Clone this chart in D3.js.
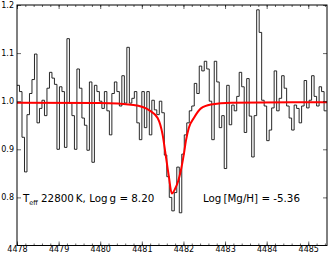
<!DOCTYPE html>
<html>
<head>
<meta charset="utf-8">
<title>spectrum</title>
<script src="https://cdn.jsdelivr.net/npm/d3@7"></script>
<style>
  body { margin: 0; background: #fff; }
  text { font-family: "DejaVu Sans", sans-serif; fill: #000; }
</style>
</head>
<body>
<svg width="329" height="256" id="mainsvg"></svg>
<script>
// observed spectrum, one flux value per pixel bin
const waveStart = 4478.0;
const binWidth = 0.06;
const flux = [
  1.033, 1.02, 0.925, 0.853, 0.972, 1.016, 1.045, 1.098, 0.955, 0.985,
  1.002, 0.97, 1.027, 1.06, 1.048, 1.035, 0.90, 1.03, 1.02, 0.904,
  1.13, 0.996, 0.97, 0.90, 1.067, 1.027, 0.965, 0.95, 0.898, 1.04,
  0.873, 1.033, 1.02, 1.0, 0.985, 1.02, 0.98, 0.93, 1.016, 1.04,
  1.02, 0.99, 1.053, 0.996, 1.112, 0.996, 1.006, 1.02, 0.955, 0.92,
  1.02, 0.945, 1.02, 0.93, 1.002, 0.982, 0.972, 1.0, 0.976, 0.888,
  0.843, 0.80, 0.772, 0.81, 0.863, 0.768, 0.89, 0.93, 0.955, 0.98,
  0.99, 1.037, 1.016, 1.073, 1.063, 1.083, 1.067, 1.0, 0.92, 1.083,
  1.04, 0.945, 0.97, 0.86, 1.033, 0.951, 0.992, 0.98, 1.01, 1.06,
  1.03, 0.935, 1.047, 0.969, 0.884, 0.97, 1.19, 1.143, 1.002, 0.99,
  0.918, 0.94, 0.986, 1.063, 0.98, 1.006, 1.053, 1.027, 0.99, 0.965,
  0.94, 0.992, 0.985, 0.955, 0.99, 1.043, 0.986, 1.002, 1.053, 1.01,
  0.99, 1.03, 1.02, 0.98
];

// model fit (red)
const fitWave = [4478.0, 4480.0, 4480.8, 4481.2, 4481.38, 4481.5, 4481.57, 4481.65,
  4481.72, 4481.8, 4481.87, 4481.94, 4482.01, 4482.06, 4482.13, 4482.25,
  4482.42, 4482.66, 4483.15, 4485.45];
const fitFlux = [0.997, 0.996, 0.992, 0.98, 0.965, 0.93, 0.89, 0.843,
  0.808, 0.818, 0.833, 0.857, 0.89, 0.918, 0.945, 0.965,
  0.985, 0.993, 0.997, 0.998];

const xTicks = [4478, 4479, 4480, 4481, 4482, 4483, 4484, 4485];
const yTicks = [0.8, 0.9, 1.0, 1.1, 1.2];

const label1 = { sub: 'eff', rest: ' 22800\u2009K, Log\u2009g = 8.20' };
const label2 = 'Log\u2009[Mg/H] = -5.36';

let svg = d3.select('#mainsvg');
const mLeft = 17, mRight = 327, mTop = 5, mBottom = 245.5;

let x = d3.scaleLinear().domain([4478, 4485.45]).range([mLeft, mRight]);
let y = d3.scaleLinear().domain([0.7, 1.2]).range([mBottom, mTop]);

svg.append('clipPath').attr('id', 'clip')
  .append('rect').attr('x', mLeft).attr('y', mTop)
  .attr('width', mRight - mLeft).attr('height', mBottom - mTop);

let pts = flux.map((f, i) => [waveStart + i * binWidth, f]);
pts.push([waveStart + flux.length * binWidth, flux[flux.length - 1]]);

let step = d3.line().x(d => x(d[0])).y(d => y(d[1])).curve(d3.curveStepAfter);
svg.append('path').datum(pts)
  .attr('clip-path', 'url(#clip)')
  .attr('d', step)
  .attr('fill', 'none')
  .attr('stroke', '#111')
  .attr('stroke-width', 0.9);

let fit = d3.line().x((d, i) => x(fitWave[i])).y(d => y(d)).curve(d3.curveMonotoneX);
svg.append('path').datum(fitFlux)
  .attr('clip-path', 'url(#clip)')
  .attr('d', fit)
  .attr('fill', 'none')
  .attr('stroke', '#ff0000')
  .attr('stroke-width', 2);

// axes
let minorX = d3.range(4478, 4485.5, 0.2);
let gb = svg.append('g').attr('transform', `translate(0,${mBottom})`)
  .call(d3.axisBottom(x).tickValues(xTicks).tickFormat(d3.format('d'))
    .tickSizeInner(-4).tickSizeOuter(0).tickPadding(1));
gb.append('g').call(d3.axisBottom(x).tickValues(minorX).tickFormat('').tickSizeInner(-2).tickSizeOuter(0));
let gt = svg.append('g').attr('transform', `translate(0,${mTop})`)
  .call(d3.axisTop(x).tickValues(xTicks).tickFormat('').tickSizeInner(-4).tickSizeOuter(0));
gt.append('g').call(d3.axisTop(x).tickValues(minorX).tickFormat('').tickSizeInner(-2).tickSizeOuter(0));
svg.append('g').attr('transform', `translate(${mLeft},0)`)
  .call(d3.axisLeft(y).tickValues(yTicks).tickFormat(d3.format('.1f'))
    .tickSizeInner(-4).tickSizeOuter(0).tickPadding(3));
svg.append('g').attr('transform', `translate(${mRight},0)`)
  .call(d3.axisRight(y).tickValues(yTicks).tickFormat('').tickSizeInner(-4).tickSizeOuter(0));

svg.selectAll('.domain').remove();
svg.selectAll('.tick line').attr('stroke', '#000').attr('stroke-width', 0.6);
svg.selectAll('.tick text').style('font-size', '8px').attr('font-family', null);

svg.append('rect').attr('x', mLeft).attr('y', mTop)
  .attr('width', mRight - mLeft).attr('height', mBottom - mTop)
  .attr('fill', 'none').attr('stroke', '#000').attr('stroke-width', 1);

// annotations
let t1 = svg.append('text').attr('x', 23).attr('y', 202).style('font-size', '10.3px');
t1.append('tspan').text('T');
t1.append('tspan').attr('dy', 2.5).style('font-size', '6.5px').text(label1.sub);
t1.append('tspan').attr('dy', -2.5).text(label1.rest);

svg.append('text').attr('x', 203).attr('y', 202).style('font-size', '10.3px').text(label2);
</script>
</body>
</html>
